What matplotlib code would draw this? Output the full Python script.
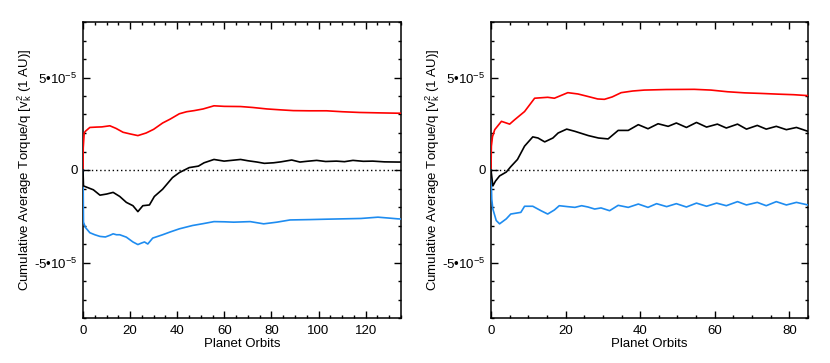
import matplotlib
matplotlib.use("Agg")
import matplotlib.pyplot as plt
from matplotlib.ticker import MultipleLocator, FixedLocator

plt.rcParams['font.family'] = ['Liberation Sans', 'DejaVu Sans']
plt.rcParams['mathtext.fontset'] = 'custom'
plt.rcParams['mathtext.rm'] = 'Liberation Sans'
plt.rcParams['mathtext.it'] = 'Liberation Sans'

SCALE = 1e-5

# ---------------- Left panel (values in units of 1e-5) ----------------
left_red_x = [0, 0.1, 0.5, 1, 2.9, 5.8, 8, 11.4, 14, 17, 20, 23.3, 26.8, 30, 33.8,
              37, 40.9, 44, 47.2, 51, 55.6, 60, 66.9, 72, 78.1, 84, 89.3, 96,
              103.4, 110, 117.4, 125, 133.6, 135]
left_red_y = [0, 1.2, 2.0, 2.09, 2.30, 2.32, 2.33, 2.39, 2.25, 2.04, 1.95, 1.86, 2.0, 2.2, 2.54,
              2.75, 3.04, 3.15, 3.21, 3.30, 3.47, 3.44, 3.43, 3.38, 3.30, 3.25, 3.21, 3.20,
              3.20, 3.15, 3.11, 3.09, 3.07, 3.07]

left_black_x = [0, 0.2, 2, 4.4, 7.2, 10, 12.8, 15.6, 18.4, 21.2, 23.3, 25.4, 28.2, 30.3,
                33.8, 38, 40.9, 45.1, 49, 51.4, 55.6, 59.9, 63, 66.9, 70, 73.9, 77,
                80.9, 84, 88.6, 92.1, 95, 99.2, 103, 107.6, 111, 114.6, 119, 123, 128,
                133.6, 135]
left_black_y = [0, -0.86, -0.95, -1.07, -1.36, -1.3, -1.21, -1.43, -1.75, -1.93, -2.25, -1.93,
                -1.89, -1.43, -1.04, -0.41, -0.14, 0.13, 0.21, 0.39, 0.57, 0.48, 0.52, 0.57,
                0.50, 0.43, 0.36, 0.39, 0.44, 0.54, 0.43, 0.47, 0.52, 0.46, 0.48, 0.45,
                0.52, 0.47, 0.48, 0.44, 0.43, 0.43]

left_blue_x = [0, 0.1, 0.2, 1, 2.9, 5, 7.2, 9.5, 11.4, 12.8, 14.2, 15.6, 18.4, 21.2, 23.3,
               24.8, 26.1, 27.5, 29.6, 33.8, 37, 40.9, 44, 46.5, 51, 55.6, 60, 64, 71,
               76.7, 82.3, 87.9, 96.4, 103, 110.4, 118, 125.2, 130, 133.6, 135]
left_blue_y = [0, -1.2, -2.82, -3.1, -3.39, -3.5, -3.59, -3.62, -3.53, -3.45, -3.5, -3.5,
               -3.63, -3.89, -4.03, -3.95, -3.89, -4.0, -3.68, -3.5, -3.35, -3.18, -3.08,
               -3.0, -2.9, -2.79, -2.8, -2.82, -2.79, -2.91, -2.82, -2.7, -2.68, -2.66,
               -2.64, -2.62, -2.55, -2.6, -2.64, -2.65]

# ---------------- Right panel (values in units of 1e-5) ----------------
right_red_x = [0, 0.1, 0.4, 1.0, 2.8, 5.0, 6.3, 9.0, 11.7, 15.2, 17, 20.6, 23.3, 25.5,
               28.6, 30.4, 32.5, 34.9, 38, 41.1, 47, 54.5, 59, 63.4, 68, 72.3, 77,
               81.2, 85]
right_red_y = [0, 1.29, 1.8, 2.18, 2.63, 2.48, 2.71, 3.16, 3.88, 3.93, 3.88, 4.18, 4.11, 4.0,
               3.84, 3.82, 3.95, 4.18, 4.27, 4.32, 4.35, 4.36, 4.32, 4.23, 4.17, 4.14, 4.10,
               4.07, 4.02]

right_black_x = [0, 0.5, 1.2, 2.3, 4.1, 5.3, 7.1, 9, 11.2, 12.6, 14.4, 16.6, 18, 20.3,
                 22.5, 26.1, 28.8, 31.4, 34.1, 36.8, 39.5, 42.1, 44.8, 47.5, 49.7, 52.4,
                 55.1, 57.8, 60.7, 63.1, 66.1, 68.5, 71.4, 73.8, 76.5, 79.2, 81.9, 85]
right_black_y = [0, -0.86, -0.6, -0.32, -0.11, 0.18, 0.57, 1.29, 1.79, 1.73, 1.52, 1.73, 2.0,
                 2.21, 2.09, 1.86, 1.73, 1.68, 2.14, 2.14, 2.45, 2.23, 2.5, 2.36, 2.54, 2.3,
                 2.57, 2.32, 2.48, 2.27, 2.48, 2.21, 2.41, 2.21, 2.36, 2.18, 2.3, 2.09]

right_blue_x = [0, 0.2, 0.5, 1.4, 2.3, 4.1, 5.3, 8, 9, 11.2, 13.4, 15.2, 17, 18.3, 20.5,
                22.5, 24.3, 26, 27.8, 29.5, 31.8, 34.1, 36.8, 39.5, 42.1, 44.4, 47.1,
                49.7, 52.4, 55.1, 57.8, 60.5, 63.1, 66.1, 68.5, 71.4, 73.8, 76.5, 79.2,
                81.9, 85]
right_blue_y = [0, -1.57, -2.11, -2.73, -2.91, -2.64, -2.38, -2.29, -1.96, -1.96, -2.2, -2.38,
                -2.16, -1.93, -1.98, -2.02, -1.93, -2.0, -2.11, -2.05, -2.2, -1.91, -2.02,
                -1.84, -2.02, -1.82, -1.98, -1.82, -2.0, -1.79, -1.96, -1.79, -1.93, -1.71,
                -1.89, -1.75, -1.93, -1.71, -1.89, -1.75, -1.89]

y_ticks = [-5, 0, 5]
y_tick_labels = ['-5•10$^{-5}$', '0', '5•10$^{-5}$']
x_label = 'Planet Orbits'
y_label = r'Cumulative Average Torque/q [v$_k^2$ (1 AU)]'

RED = '#ff0000'
BLUE = '#1e8cf0'
BLACK = '#000000'

fig = plt.figure(figsize=(8.3, 3.63), dpi=100)
ax1 = fig.add_axes([83 / 830, 1 - 318 / 363, 318 / 830, 296 / 363])
ax2 = fig.add_axes([491 / 830, 1 - 318 / 363, 317 / 830, 296 / 363])

panels = [
    (ax1, 135, 20, (left_red_x, left_red_y), (left_black_x, left_black_y), (left_blue_x, left_blue_y)),
    (ax2, 85, 20, (right_red_x, right_red_y), (right_black_x, right_black_y), (right_blue_x, right_blue_y)),
]

for ax, xmax, xmajor, red, black, blue in panels:
    ax.axhline(0, color='black', lw=1.0, ls=(0, (1, 2)), zorder=1)
    ax.plot(red[0], [v * SCALE for v in red[1]], color=RED, lw=1.2, zorder=3)
    ax.plot(blue[0], [v * SCALE for v in blue[1]], color=BLUE, lw=1.2, zorder=3)
    ax.plot(black[0], [v * SCALE for v in black[1]], color=BLACK, lw=1.2, zorder=4)
    ax.set_xlim(0, xmax)
    ax.set_ylim(-8e-5, 8e-5)
    ax.xaxis.set_major_locator(MultipleLocator(xmajor))
    ax.xaxis.set_minor_locator(MultipleLocator(5))
    ax.yaxis.set_major_locator(FixedLocator([t * SCALE for t in y_ticks]))
    ax.yaxis.set_minor_locator(MultipleLocator(1e-5))
    ax.set_yticklabels(y_tick_labels)
    ax.tick_params(which='both', direction='in', top=True, right=True, labelsize=9.5)
    ax.tick_params(axis='y', pad=4)
    ax.tick_params(axis='x', pad=5)
    ax.tick_params(which='major', length=5, width=1)
    ax.tick_params(which='minor', length=2.5, width=1)
    for s in ax.spines.values():
        s.set_linewidth(1.1)
    ax.set_xlabel(x_label, fontsize=9.5, labelpad=1)
    ax.set_ylabel(y_label, fontsize=9.5)
    ax.yaxis.set_label_coords(-0.155, 0.5)

fig.savefig('out.png', dpi=100)
